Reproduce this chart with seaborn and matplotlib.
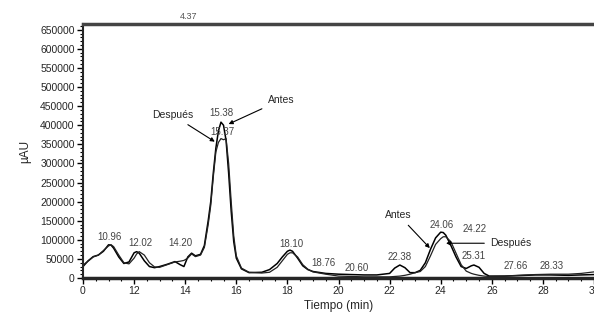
import matplotlib
matplotlib.use("Agg")
import matplotlib.pyplot as plt
from matplotlib.ticker import MultipleLocator
import pandas as pd
import seaborn as sns

# retention time (min) and detector signal (uAU)
tiempo = [10.0, 10.2, 10.4, 10.6, 10.8, 11.0, 11.1, 11.2, 11.4, 11.6, 11.8, 12.0,
          12.1, 12.2, 12.4, 12.6, 12.8, 13.0, 13.3, 13.6, 13.8, 13.95, 14.1, 14.25,
          14.4, 14.6, 14.75, 14.9, 15.0, 15.1, 15.2, 15.3, 15.4, 15.5, 15.6, 15.7,
          15.8, 15.9, 16.0, 16.2, 16.5, 17.0, 17.3, 17.6, 17.8, 18.0, 18.1, 18.2,
          18.4, 18.6, 18.8, 19.0, 19.5, 20.0, 20.5, 21.0, 21.5, 22.0, 22.2, 22.4,
          22.6, 22.8, 23.0, 23.2, 23.4, 23.6, 23.8, 24.0, 24.1, 24.2, 24.4, 24.6,
          24.8, 25.0, 25.2, 25.3, 25.5, 25.7, 25.9, 26.5, 27.0, 27.7, 28.3, 29.0,
          29.5, 30.0]
antes = [30000, 45000, 56000, 60000, 70000, 87000, 86000, 78000, 55000, 38000, 42000, 66000,
         69000, 65000, 45000, 30000, 27000, 30000, 36000, 43000, 35000, 30000, 55000, 65000,
         58000, 62000, 85000, 150000, 200000, 275000, 340000, 385000, 408000, 400000, 360000, 275000,
         175000, 95000, 52000, 24000, 14000, 15000, 22000, 38000, 55000, 70000, 73000, 70000,
         52000, 32000, 22000, 17000, 12000, 10000, 9000, 8000, 8000, 12000, 26000, 34000,
         27000, 14000, 14000, 20000, 40000, 75000, 105000, 120000, 119000, 112000, 85000, 55000,
         30000, 25000, 32000, 34000, 28000, 12000, 5000, 5000, 6000, 8000, 8000, 7000,
         8000, 9000]
despues = [34000, 44000, 55000, 60000, 72000, 84000, 87000, 82000, 60000, 40000, 37000, 52000,
           63000, 69000, 60000, 40000, 29000, 28000, 35000, 42000, 44000, 46000, 52000, 63000,
           56000, 60000, 80000, 140000, 190000, 265000, 330000, 355000, 365000, 362000, 365000, 300000,
           200000, 110000, 58000, 26000, 15000, 13000, 15000, 28000, 45000, 62000, 66000, 66000,
           55000, 35000, 23000, 16000, 10000, 5000, 4000, 3000, 3000, 3000, 4000, 5000,
           7000, 10000, 14000, 17000, 30000, 58000, 88000, 103000, 108000, 108000, 95000, 65000,
           35000, 18000, 12000, 10000, 7000, 5000, 4000, 5000, 7000, 9000, 10000, 10000,
           12000, 16000]

# peak labels: text, label position (min, uAU)
pico_txt = ["10.96", "12.02", "14.20", "15.38", "15.37", "18.10", "18.76", "20.60",
            "22.38", "24.06", "24.22", "25.31", "27.66", "28.33"]
pico_t = [11.02, 12.24, 13.83, 15.40, 15.47, 18.14, 19.41, 20.72,
          22.39, 24.05, 25.33, 25.30, 26.94, 28.34]
pico_y = [108000, 91000, 91000, 431000, 383000, 89000, 40000, 25000,
          56000, 140000, 127000, 58000, 31000, 31000]

df = pd.concat([
    pd.DataFrame({"Tiempo": tiempo, "uAU": antes, "muestra": "Antes"}),
    pd.DataFrame({"Tiempo": tiempo, "uAU": despues, "muestra": "Después"}),
])

sns.set_theme(style="ticks")
plt.rcParams["font.family"] = ["Liberation Sans", "DejaVu Sans"]

fig = plt.figure(figsize=(5.94, 3.2), dpi=100)
ax = fig.add_axes([83 / 594, 42 / 320, 511 / 594, 254 / 320])

sns.lineplot(data=df[df.muestra == "Antes"], x="Tiempo", y="uAU", ax=ax,
             color="black", lw=1.1)
sns.lineplot(data=df[df.muestra == "Después"], x="Tiempo", y="uAU", ax=ax,
             color="#222222", lw=0.9)

ax.set_xlim(10, 30)
ax.set_ylim(0, 665000)
ax.xaxis.set_major_locator(MultipleLocator(2))
ax.xaxis.set_minor_locator(MultipleLocator(0.5))
ax.yaxis.set_major_locator(MultipleLocator(50000))
ax.yaxis.set_minor_locator(MultipleLocator(10000))
ax.set_yticks(range(0, 650001, 50000))
ax.set_yticklabels([str(v) for v in range(0, 650001, 50000)])
ax.set_xticks(range(10, 31, 2))
ax.set_xticklabels(["0", "12", "14", "16", "18", "20", "22", "24", "26", "28", "30"])
ax.tick_params(axis="both", which="major", labelsize=7.5, length=4, width=1,
               color="black", pad=2)
ax.tick_params(axis="both", which="minor", length=2.5, width=0.8, color="black")

ax.spines["left"].set_linewidth(1.5)
ax.spines["bottom"].set_linewidth(2.5)
ax.spines["top"].set_linewidth(2.5)
ax.spines["top"].set_color("#444444")
ax.spines["right"].set_visible(False)

ax.set_xlabel("Tiempo (min)", fontsize=8.5, labelpad=3)
ax.set_ylabel("µAU", fontsize=8.5, labelpad=6)

for txt, t, y in zip(pico_txt, pico_t, pico_y):
    ax.text(t, y, txt, fontsize=7, color="#444444", ha="center", va="center")
ax.text(14.15, 685000, "4.37", fontsize=6.5, color="#555555", ha="center",
        va="center", clip_on=False)

arrow = dict(arrowstyle="-|>", color="black", lw=0.8, mutation_scale=6)
ax.annotate("Después", xy=(15.25, 353000), xytext=(13.5, 427000), fontsize=7.5,
            ha="center", va="center", arrowprops=arrow)
ax.annotate("Antes", xy=(15.6, 400000), xytext=(17.75, 466000), fontsize=7.5,
            ha="center", va="center", arrowprops=arrow)
ax.annotate("Antes", xy=(23.65, 73000), xytext=(22.35, 165000), fontsize=7.5,
            ha="center", va="center", arrowprops=arrow)
ax.annotate("Después", xy=(24.1, 91000), xytext=(26.75, 91000), fontsize=7.5,
            ha="center", va="center", arrowprops=arrow)

fig.savefig("out.png", dpi=100)
